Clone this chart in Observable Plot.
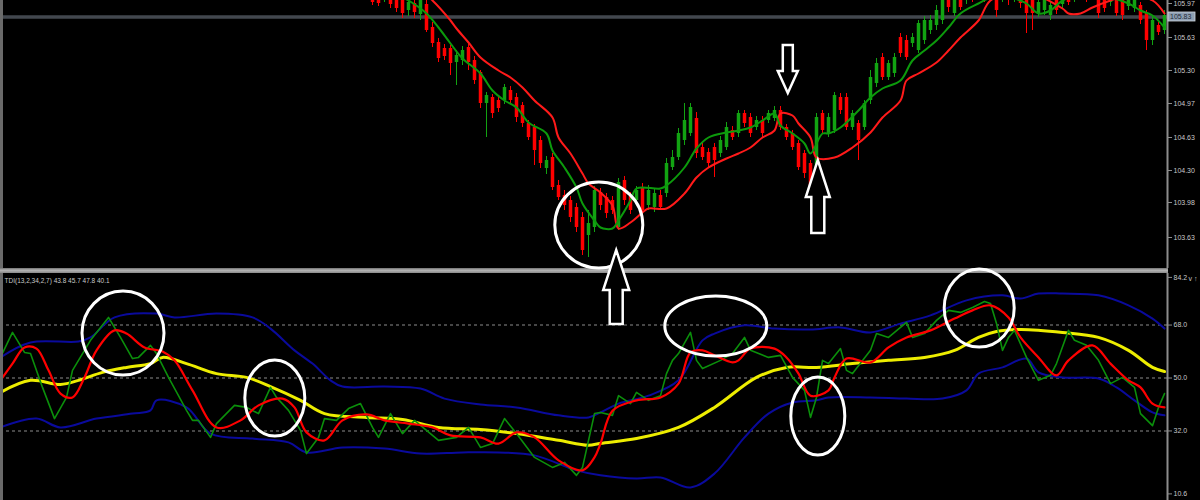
<!DOCTYPE html>
<html><head><meta charset="utf-8">
<script src="https://cdn.jsdelivr.net/npm/d3@7"></script>
<script src="https://cdn.jsdelivr.net/npm/@observablehq/plot@0.6"></script>
<style>
html,body{margin:0;padding:0;background:#000;}
#wrap{position:relative;width:1200px;height:500px;background:#000;overflow:hidden;}
#wrap svg{display:block;}
#sep{height:5px;width:1200px;background:#000;position:relative;}
#sep div{position:absolute;left:0;top:0;width:1168px;height:5px;background:linear-gradient(#727272,#b4b4b4 45%,#8a8a8a);}
#overlay{position:absolute;left:0;top:0;pointer-events:none;}
</style></head>
<body><div id="wrap"></div>
<script>
// ---------- price panel data ----------
const candleFirstBar = 62;
const openP = [106.10,106.05,106.02,106.06,106.02,106.00,105.90,105.97,105.86,105.96,
105.73,105.58,105.52,105.52,105.38,105.40,105.53,105.40,105.28,104.97,
105.03,105.00,105.00,105.10,105.03,104.95,104.77,104.73,104.60,104.32,
104.43,104.15,104.05,104.00,103.93,103.83,103.65,103.73,104.08,104.03,
104.00,103.73,104.20,104.04,104.00,104.13,103.95,103.93,104.05,104.07,
104.33,104.43,104.60,104.67,104.82,104.53,104.48,104.53,104.47,104.53,
104.70,104.67,104.87,104.83,104.73,104.80,104.80,104.82,104.90,104.73,
104.67,104.57,104.47,104.37,104.20,104.87,104.67,104.70,105.03,105.03,
104.73,104.77,104.73,105.00,105.17,105.43,105.23,105.27,105.63,105.60,
105.57,105.50,105.60,105.70,105.75,105.80,106.02,105.87,106.05,106.00,
106.12,106.05,106.12,106.06,106.05,106.02,106.10,106.03,106.08,106.03,
106.00,105.87,105.90,105.85,106.02,105.96,106.08,106.02,106.04,106.10,
106.06,106.05,106.04,105.98,106.03,106.00,105.94,105.92,105.95,105.87,
105.60,105.75,105.70];
const closeP = [105.98,105.97,106.08,105.96,105.92,105.87,105.98,105.88,106.00,105.70,
105.57,105.42,105.44,105.37,105.45,105.50,105.38,105.20,104.97,105.05,
104.87,104.92,105.13,105.00,104.83,104.77,104.63,104.50,104.37,104.40,
104.13,104.03,103.95,103.83,103.73,103.50,103.77,104.10,103.95,103.87,
103.90,104.18,104.00,103.90,104.10,103.90,104.10,104.07,103.93,104.37,
104.43,104.67,104.80,104.93,104.47,104.43,104.37,104.40,104.60,104.73,
104.63,104.87,104.77,104.67,104.80,104.67,104.87,104.90,104.73,104.63,
104.53,104.33,104.27,104.10,104.83,104.70,104.83,105.05,104.90,104.73,
104.87,104.60,104.97,105.23,105.37,105.23,105.37,105.43,105.47,105.43,
105.63,105.77,105.80,105.80,105.90,106.00,105.93,106.05,105.93,106.10,
106.02,106.15,106.03,106.15,105.90,106.12,106.00,106.12,105.97,105.87,
105.87,105.98,106.02,105.95,105.90,106.06,105.98,106.10,106.12,106.02,
106.14,105.87,105.92,106.06,105.87,105.85,106.04,106.02,105.80,105.60,
105.80,105.68,105.85];
const highP = [106.15,106.10,106.12,106.10,106.06,106.03,106.02,106.00,106.04,106.00,
105.78,105.62,105.56,105.55,105.50,105.54,105.56,105.44,105.30,105.08,
105.06,105.04,105.16,105.14,105.07,104.98,104.80,104.76,104.64,104.44,
104.47,104.20,104.10,104.04,103.97,103.88,103.90,104.14,104.12,104.07,
104.04,104.22,104.24,104.08,104.14,104.17,104.15,104.12,104.10,104.42,
104.50,104.72,104.97,104.97,104.88,104.57,104.52,104.57,104.64,104.78,
104.74,104.90,104.90,104.87,104.84,104.84,104.90,104.94,104.94,104.76,
104.70,104.60,104.50,104.40,104.87,104.90,104.87,105.08,105.07,105.07,
104.90,104.80,105.00,105.30,105.42,105.47,105.40,105.47,105.67,105.65,
105.67,105.80,105.84,105.85,105.95,106.05,106.06,106.08,106.08,106.14,
106.16,106.20,106.16,106.18,106.08,106.16,106.14,106.16,106.12,106.06,
106.04,106.02,106.06,105.98,106.06,106.10,106.12,106.14,106.16,106.14,
106.18,106.08,106.08,106.10,106.06,106.04,106.08,106.06,105.98,105.90,
105.84,105.78,105.90];
const lowP = [105.95,105.94,105.98,105.92,105.88,105.82,105.84,105.82,105.80,105.68,
105.53,105.38,105.40,105.25,105.15,105.35,105.30,105.16,104.92,104.63,
104.82,104.88,104.96,104.96,104.78,104.73,104.60,104.35,104.32,104.26,
104.10,104.00,103.90,103.78,103.68,103.45,103.43,103.68,103.90,103.82,
103.86,103.70,103.95,103.86,103.96,103.86,103.90,103.88,103.90,104.03,
104.30,104.40,104.55,104.64,104.42,104.40,104.32,104.23,104.43,104.50,
104.60,104.63,104.73,104.63,104.70,104.63,104.77,104.79,104.70,104.60,
104.50,104.30,104.22,104.05,104.15,104.66,104.63,104.67,104.86,104.70,
104.70,104.40,104.70,104.96,105.13,105.20,105.20,105.23,105.43,105.40,
105.53,105.47,105.56,105.66,105.70,105.76,105.88,105.84,105.90,105.96,
105.98,106.00,105.98,106.00,105.83,105.98,105.95,105.98,105.92,105.67,
105.70,105.83,105.85,105.80,105.86,105.92,105.95,105.98,106.00,105.98,
106.02,105.82,105.88,105.94,105.84,105.80,105.90,105.88,105.76,105.50,
105.55,105.65,105.66];

const fastMaBar = [60,64,68,71,73,75,77,80,82,84,86,88,91,92,94,96,97,99,100,102,103,105,106,110,111,114,116,118,121,123,125,127,129,130,132,134,135,137,138,140,143,145,147,150,152,154,156,158,160,163,166,169,171,173,175,176,177,180,184,188,190,192,194];
const fastMaVal = [106.30,106.12,106.00,105.87,105.73,105.57,105.42,105.27,105.10,105.00,104.93,104.78,104.67,104.50,104.33,104.13,103.97,103.80,103.73,103.72,103.80,104.00,104.12,104.12,104.15,104.33,104.52,104.63,104.68,104.70,104.73,104.80,104.87,104.75,104.67,104.57,104.47,104.67,104.67,104.73,104.90,105.03,105.12,105.20,105.40,105.50,105.60,105.73,105.87,105.97,106.05,106.02,105.97,105.87,105.90,105.95,106.00,106.05,106.04,105.97,105.90,105.85,105.73];
const slowMaBar = [64,72,75,76,78,80,83,85,87,89,92,93,95,97,98,100,102,103,105,107,108,111,114,116,118,121,123,125,127,129,130,132,133,135,136,139,142,145,147,150,151,153,156,158,160,163,165,170,177,178,180,182,185,188,192,194];
const slowMaVal = [106.40,106.00,105.80,105.72,105.58,105.43,105.30,105.23,105.13,105.00,104.83,104.63,104.47,104.27,104.17,104.08,103.95,103.72,103.78,103.88,103.92,103.92,104.07,104.23,104.33,104.42,104.47,104.53,104.63,104.70,104.87,104.85,104.77,104.63,104.43,104.43,104.53,104.68,104.83,105.00,105.20,105.27,105.38,105.50,105.63,105.80,106.00,106.10,105.92,105.87,105.87,105.93,106.00,106.05,106.00,105.87];

const currentPrice = 105.835;
const priceTicks = [105.97,105.63,105.30,104.97,104.63,104.30,103.98,103.63];

// ---------- TDI panel data ----------
const tdiLabel = "TDI(13,2,34,2,7) 43.8 45.7 47.8 40.1";
const tdiLevels = [68, 50, 32];
const tdiTicks = [84.2, 68, 50, 32, 10.6];

const baseBar = [0,5,10,13,17,21,25,27,31,36,41,45,50,54,61,67,73,80,86,93,98,100,106,113,119,126,131,136,142,148,154,159,163,166,170,177,183,188,192,194];
const baseVal = [45.1,49.2,47.8,49.2,51.9,53.6,54.9,57.0,54.9,51.5,50.2,47.1,42.4,37.9,36.6,35.9,33.2,32.5,31.1,28.8,27.1,27.8,29.4,33.2,40.0,50.2,53.6,53.6,54.9,56.0,57.0,59.4,63.8,65.8,66.5,65.5,63.8,59.4,53.6,52.2];

const upBandBar = [0,5,13,15,19,26,29,36,42,45,49,52,55,57,64,70,74,80,86,93,98,100,103,108,113,117,119,124,129,135,140,145,150,155,161,167,170,173,177,183,188,192,194];
const upBandVal = [57.0,62.1,62.4,63.8,70.6,71.9,70.6,71.9,70.6,66.8,59.4,54.9,49.2,47.1,47.1,46.4,43.0,41.0,40.0,37.3,36.6,38.3,41.3,44.0,49.2,62.8,65.1,67.9,66.8,66.5,67.2,65.5,68.5,71.3,76.4,78.1,77.0,78.7,78.7,78.1,74.7,70.2,66.8];

const loBandBar = [0,6,10,16,22,25,26,31,35,42,48,51,57,64,70,77,83,89,96,100,106,110,115,119,124,128,132,136,138,145,151,157,161,163,167,171,173,177,183,186,189,192,194];
const loBandVal = [33.2,36.2,33.2,36.2,37.9,39.0,42.4,40.0,31.1,29.4,28.1,24.7,26.4,26.0,24.3,24.7,24.7,23.7,18.6,16.9,15.8,16.2,12.8,17.5,29.8,37.9,41.7,42.4,43.4,43.4,43.0,43.0,45.8,51.5,53.6,56.6,51.9,50.2,49.8,46.8,42.4,38.3,37.3];

const signalBar = [0,2,4,6,8,10,12,14,16,19,21,24,27,29,32,36,40,43,47,49,51,54,57,61,64,68,72,75,80,83,86,89,93,97,99,100,102,106,110,113,115,117,119,122,123,125,129,131,133,135,138,139,141,145,148,151,155,159,162,165,168,170,173,176,178,182,185,188,190,192,194];
const signalVal = [49.2,54.9,60.4,60.0,52.6,44.7,43.4,50.2,59.4,66.2,65.1,60.4,59.0,56.0,45.8,33.2,35.6,40.7,43.0,40.0,31.5,28.8,35.6,37.6,35.6,34.5,33.2,30.5,29.8,27.7,31.5,29.8,22.0,18.6,23.0,27.7,38.9,42.4,43.4,48.1,58.7,59.4,57.7,55.3,56.0,60.0,60.0,57.0,51.5,44.0,45.8,50.2,56.6,55.3,60.4,63.8,66.2,70.2,73.0,74.7,70.6,63.8,57.0,50.9,56.0,61.1,54.9,49.2,46.8,41.3,40.0];

const rsiBar = [0,2,4,5,7,9,11,12,13,15,18,20,22,23,25,26,28,31,32,33,35,36,39,41,43,45,46,48,50,51,53,54,56,58,60,62,63,65,67,69,71,73,76,78,80,82,84,86,89,92,94,96,97,99,100,102,103,105,106,108,110,111,112,113,115,116,117,120,122,124,125,128,130,132,134,135,136,137,138,140,141,142,145,146,148,151,152,154,156,158,160,162,164,165,166,167,168,169,171,173,175,176,178,179,181,183,185,187,189,190,192,193,194];
const rsiVal = [57.0,65.5,58.7,58.3,46.8,36.2,43.4,52.6,56.0,62.8,70.6,63.8,56.6,57.0,61.1,58.3,50.2,39.0,35.6,35.6,29.8,34.5,40.7,40.0,37.9,46.8,43.4,39.0,32.2,24.3,29.8,36.2,35.6,39.6,41.3,33.2,29.8,37.9,31.1,35.6,32.2,28.8,29.8,33.2,26.4,27.7,36.2,31.1,23.0,19.6,21.3,16.9,19.6,37.9,38.3,37.3,44.0,41.3,45.1,42.4,44.0,51.5,56.0,58.3,65.5,56.0,53.2,56.0,58.3,63.8,59.4,57.0,57.7,50.2,45.8,36.6,43.4,56.0,54.9,60.0,52.6,51.5,59.4,65.1,63.8,68.9,63.8,65.1,69.6,73.0,72.3,74.0,76.0,75.3,68.5,59.4,63.8,66.2,57.0,49.2,50.9,54.9,66.2,62.8,61.1,56.0,48.1,50.2,46.8,37.9,33.8,40.0,44.7];

// ---------- annotations (anchored in data units) ----------
const priceEllipseBar = [99.8], priceEllipseVal = [103.75];
const tdiEllipseBar = [20.5, 45.8, 119.3, 136.3, 163.2];
const tdiEllipseVal = [65.1, 43.0, 67.5, 36.9, 73.6];
const tdiEllipseRx = [41, 30, 51, 27, 35];
const tdiEllipseRy = [42, 38, 30, 39, 39];
const arrowBar = [131.3, 136.3, 102.7];
const arrowVal = [105.07, 104.40, 103.50];
const arrowDir = ["down", "up", "up"];

// ---------- build ----------
const candles = openP.map((o, i) => ({bar: candleFirstBar + i, open: o, close: closeP[i], high: highP[i], low: lowP[i]}));
const pts = (b, v) => b.map((x, i) => ({bar: x, v: v[i]}));
const UP = "#12a312", DOWN = "#ff0000";
const xDomain = [0, 194.5];
const styleBase = {background: "#000", color: "#c8c8c8", fontFamily: "Liberation Sans, DejaVu Sans, sans-serif", fontSize: "7px", overflow: "visible"};

const pricePlot = Plot.plot({
  width: 1200, height: 268, marginTop: 0, marginBottom: 0, marginLeft: 0, marginRight: 33,
  style: styleBase,
  x: {domain: xDomain, axis: null},
  y: {domain: [103.32, 106.00], axis: null},
  marks: [
    Plot.ruleY([currentPrice], {stroke: "#42474e", strokeWidth: 3.5}),
    Plot.ruleX(candles, {x: "bar", y1: "low", y2: "high", stroke: d => d.close >= d.open ? UP : DOWN, strokeWidth: 1, clip: true}),
    Plot.ruleX(candles, {x: "bar", y1: "open", y2: "close", stroke: d => d.close >= d.open ? UP : DOWN, strokeWidth: 3.5, clip: true}),
    Plot.line(pts(slowMaBar, slowMaVal), {x: "bar", y: "v", stroke: "#ff1a1a", strokeWidth: 2, curve: "catmull-rom", clip: true}),
    Plot.line(pts(fastMaBar, fastMaVal), {x: "bar", y: "v", stroke: "#0c9a0c", strokeWidth: 2, curve: "catmull-rom", clip: true}),
    Plot.ruleX([xDomain[0]], {stroke: "#6a6a6a", strokeWidth: 5}),
    Plot.ruleX([xDomain[1]], {stroke: "#8c8c8c", strokeWidth: 2}),
    Plot.axisY(priceTicks, {anchor: "right", tickFormat: d => d.toFixed(2), tickSize: 4, tickPadding: 2, stroke: "#8c8c8c", fill: "#c8c8c8"})
  ]
});

const tdiPlot = Plot.plot({
  width: 1200, height: 227, marginTop: 0, marginBottom: 0, marginLeft: 0, marginRight: 33,
  style: styleBase,
  x: {domain: xDomain, axis: null},
  y: {domain: [8.35, 85.53], axis: null},
  marks: [
    Plot.ruleY(tdiLevels, {stroke: "#5e5e5e", strokeWidth: 1.5, strokeDasharray: "3,3"}),
    Plot.line(pts(upBandBar, upBandVal), {x: "bar", y: "v", stroke: "#0a0a9c", strokeWidth: 2, curve: "catmull-rom"}),
    Plot.line(pts(loBandBar, loBandVal), {x: "bar", y: "v", stroke: "#0a0a9c", strokeWidth: 2, curve: "catmull-rom"}),
    Plot.line(pts(baseBar, baseVal), {x: "bar", y: "v", stroke: "#eded00", strokeWidth: 3, curve: "catmull-rom"}),
    Plot.line(pts(rsiBar, rsiVal), {x: "bar", y: "v", stroke: "#0b8f0b", strokeWidth: 1.6}),
    Plot.line(pts(signalBar, signalVal), {x: "bar", y: "v", stroke: "#ff0000", strokeWidth: 2.2, curve: "catmull-rom"}),
    Plot.ruleX([xDomain[0]], {stroke: "#6a6a6a", strokeWidth: 5}),
    Plot.ruleX([xDomain[1]], {stroke: "#8c8c8c", strokeWidth: 2}),
    Plot.axisY(tdiTicks, {anchor: "right", tickFormat: d => d.toFixed(1), tickSize: 4, tickPadding: 2, stroke: "#8c8c8c", fill: "#c8c8c8"}),
    Plot.text([tdiLabel], {frameAnchor: "top-left", dx: 4, dy: 5, fill: "#c8c8c8", fontSize: 6.5, textAnchor: "start"})
  ]
});

const wrap = document.getElementById("wrap");
wrap.appendChild(pricePlot);
const sep = document.createElement("div");
sep.id = "sep";
sep.appendChild(document.createElement("div"));
wrap.appendChild(sep);
wrap.appendChild(tdiPlot);

// ---------- overlay annotations ----------
const LOW_Y0 = 273;
const sx = pricePlot.scale("x"), syTop = pricePlot.scale("y"), syLow = tdiPlot.scale("y");
const ov = d3.create("svg").attr("id", "overlay").attr("width", 1200).attr("height", 500);

// current price box on the price axis
const cpY = syTop.apply(currentPrice);
const axX = sx.apply(xDomain[1]);
ov.append("rect").attr("x", axX + 1).attr("y", cpY - 4.5).attr("width", 27).attr("height", 9)
  .attr("fill", "#8e9fb2").attr("stroke", "#cfd6de").attr("stroke-width", 0.8);
ov.append("text").attr("x", axX + 3).attr("y", cpY + 2.5).attr("fill", "#1e2a36")
  .attr("font-family", "Liberation Sans, DejaVu Sans, sans-serif").attr("font-size", 7).text(currentPrice.toFixed(2));

// ellipses
priceEllipseBar.forEach((b, i) => {
  ov.append("ellipse").attr("cx", sx.apply(b)).attr("cy", syTop.apply(priceEllipseVal[i]))
    .attr("rx", 44).attr("ry", 43).attr("fill", "none").attr("stroke", "#fff").attr("stroke-width", 3);
});
tdiEllipseBar.forEach((b, i) => {
  ov.append("ellipse").attr("cx", sx.apply(b)).attr("cy", LOW_Y0 + syLow.apply(tdiEllipseVal[i]))
    .attr("rx", tdiEllipseRx[i]).attr("ry", tdiEllipseRy[i]).attr("fill", "none").attr("stroke", "#fff").attr("stroke-width", 3);
});

// block arrows
const arrowSize = [{L: 48, H: 22, hw: 10, sw: 5}, {L: 73, H: 37, hw: 12, sw: 6.5}, {L: 74, H: 40, hw: 13, sw: 6.5}];
arrowBar.forEach((b, i) => {
  const tx = sx.apply(b), ty = syTop.apply(arrowVal[i]);
  const {L, H, hw, sw} = arrowSize[i];
  const s = arrowDir[i] === "up" ? 1 : -1;
  const p = [[tx, ty], [tx + hw, ty + s * H], [tx + sw, ty + s * H], [tx + sw, ty + s * L],
             [tx - sw, ty + s * L], [tx - sw, ty + s * H], [tx - hw, ty + s * H]];
  ov.append("polygon").attr("points", p.map(q => q.join(",")).join(" "))
    .attr("fill", "#000").attr("stroke", "#fff").attr("stroke-width", 2.5).attr("stroke-linejoin", "miter");
});
wrap.appendChild(ov.node());
</script>
</body></html>
